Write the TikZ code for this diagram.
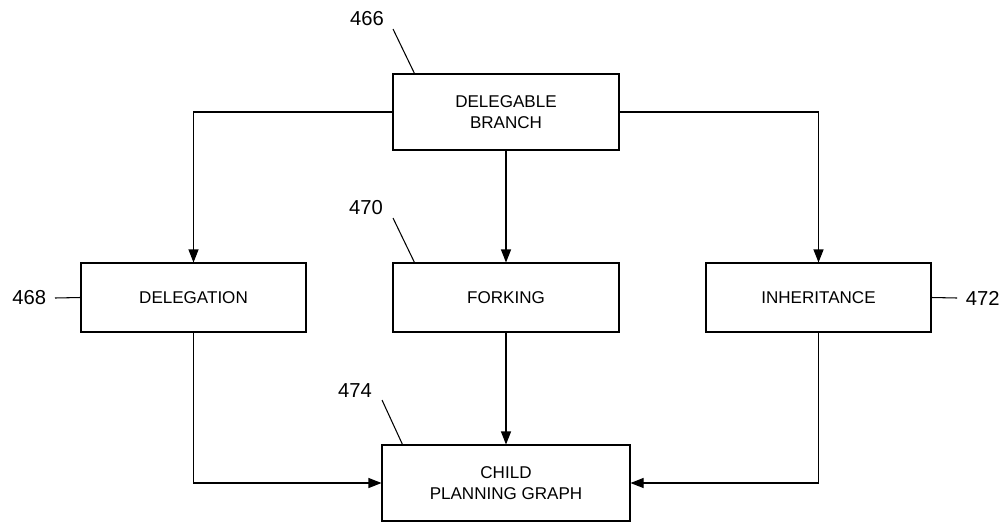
\documentclass[tikz,border=0pt]{standalone}
\usepackage{fontspec}
\setmainfont{Liberation Sans}
\usepackage{tikz}
\usetikzlibrary{arrows.meta}

\tikzset{
	box/.style={draw, line width=0.6pt, align=center, font=\fontsize{9.7}{12}\selectfont},
	arr/.style={line width=0.6pt, -{Triangle[length=2.6mm, width=2mm]}},
	lead/.style={line width=0.6pt},
	num/.style={inner sep=0.17cm, font=\fontsize{11.5}{13}\selectfont}
}

\begin{document}
\begin{tikzpicture}
			\useasboundingbox (0,0) rectangle (20.16,10.44);
			% Boxes
			\node[box, minimum width=4.52cm, minimum height=1.52cm] (branch) at (10.12,8.2) {DELEGABLE\\BRANCH};
			\node[box, minimum width=4.5cm, minimum height=1.38cm] (delegation) at (3.87,4.49) {DELEGATION};
			\node[box, minimum width=4.52cm, minimum height=1.38cm] (forking) at (10.12,4.49) {FORKING};
			\node[box, minimum width=4.5cm, minimum height=1.38cm] (inheritance) at (16.37,4.49) {INHERITANCE};
			\node[box, minimum width=4.96cm, minimum height=1.52cm] (child) at (10.12,0.78) {CHILD\\PLANNING GRAPH};
			%
			\draw[arr] (branch.west) -| (delegation.north);
			\draw[arr] (branch.south) -- (forking.north);
			\draw[arr] (branch.east) -| (inheritance.north);
			\draw[arr] (delegation.south) |- (child.west);
			\draw[arr] (forking.south) -- (child.north);
			\draw[arr] (inheritance.south) |- (child.east);
			% Reference numbers
			\node[num] (n466) at (7.34,10.06) {466};
			\node[num] (n470) at (7.32,6.28) {470};
			\node[num] (n474) at (7.10,2.62) {474};
			\node[num, anchor=east] (n468) at (1.1,4.48) {468};
			\node[num, anchor=west] (n472) at (19.14,4.48) {472};
			%
			\coordinate (l466) at (7.86,9.86);
			\coordinate (l470) at (7.86,6.08);
			\coordinate (l474) at (7.64,2.44);
			\draw[lead] (l466) -- ([xshift=0.44cm]branch.north west);
			\draw[lead] (l470) -- ([xshift=0.44cm]forking.north west);
			\draw[lead] (l474) -- ([xshift=0.42cm]child.north west);
			\draw[lead] (n468.east) -- (delegation.west);
			\draw[lead] (n472.west) -- (inheritance.east);
		\end{tikzpicture}
\end{document}
